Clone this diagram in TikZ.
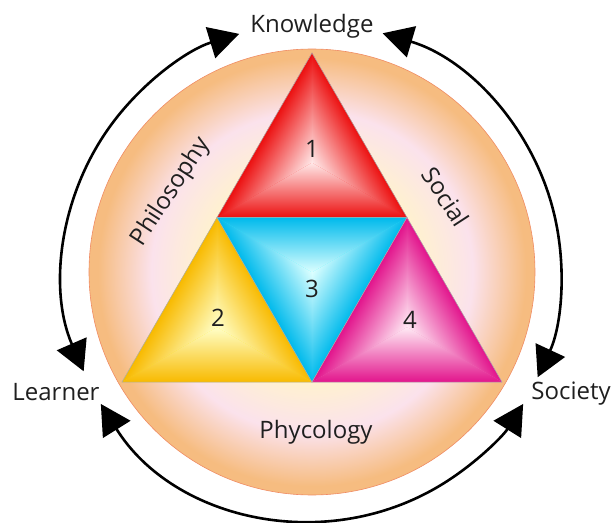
\documentclass[tikz,border=0pt]{standalone}
\usepackage{fontspec}
\setmainfont{Open Sans}
\usetikzlibrary{arrows.meta}

% Colours of the disc and of the four faces
\definecolor{discO}{RGB}{246,188,128}
\definecolor{discP}{RGB}{251,226,236}
\definecolor{discC}{RGB}{255,242,206}
\definecolor{discRim}{RGB}{240,140,100}
\definecolor{redE}{RGB}{236,16,16}
\definecolor{redM}{RGB}{255,40,40}
\definecolor{redC}{RGB}{255,232,232}
\definecolor{yelE}{RGB}{248,186,0}
\definecolor{yelM}{RGB}{255,238,0}
\definecolor{yelC}{RGB}{255,255,200}
\definecolor{cyaE}{RGB}{0,186,236}
\definecolor{cyaM}{RGB}{30,246,255}
\definecolor{cyaC}{RGB}{220,255,255}
\definecolor{magE}{RGB}{226,20,140}
\definecolor{magM}{RGB}{242,124,190}
\definecolor{magC}{RGB}{255,234,244}

\pgfdeclareradialshading{discshade}{\pgfpoint{0bp}{0bp}}{%
  color(0bp)=(discC); color(12bp)=(discC); color(18bp)=(discP);
  color(24bp)=(discO); color(25bp)=(discO); color(50bp)=(discO)}

\begin{document}
\begin{tikzpicture}[x=1pt,y=1pt]
\tikzset{
  every node/.style={font=\fontsize{24}{28}\selectfont, text=black!88},
  number/.style={font=\fontsize{24}{28}\selectfont},
  roundarrow/.style={line width=2.6pt,
    {Triangle[length=30pt,width=32pt]}-{Triangle[length=30pt,width=32pt]}},
  rim/.style={draw=gray!65, line width=0.5pt},
  redface/.style={bottom color=redE, middle color=redM, top color=redC},
  yelface/.style={bottom color=yelE, middle color=yelM, top color=yelC},
  cyaface/.style={top color=cyaE, middle color=cyaM, bottom color=cyaC},
  magface/.style={bottom color=magE, middle color=magM, top color=magC}
}
\useasboundingbox (-312,-250) rectangle (301,272);

% Draw the disc
\shade[shading=discshade] (0,0) circle (223);
\draw[discRim, line width=0.6pt] (0,0) circle (223);

% Corners and centres of the triangles
\coordinate (top) at (0,219);
\coordinate (bl) at (-190,-110);
\coordinate (br) at (190,-110);
\coordinate (ml) at (-95,54.5);
\coordinate (mr) at (95,54.5);
\coordinate (mb) at (0,-110);
\coordinate (c1) at (0,109.33);
\coordinate (c2) at (-95,-55.17);
\coordinate (c3) at (0,-0.33);
\coordinate (c4) at (95,-55.17);

% Draw the four triangles, three shaded facets each
\fill[redM] (top) -- (ml) -- (mr) -- cycle;
\foreach \a in {0,120,240}
  \shade[redface, transform canvas={rotate around={\a:(c1)}}] (ml) -- (mr) -- (c1) -- cycle;
\fill[yelM] (ml) -- (bl) -- (mb) -- cycle;
\foreach \a in {0,120,240}
  \shade[yelface, transform canvas={rotate around={\a:(c2)}}] (bl) -- (mb) -- (c2) -- cycle;
\fill[cyaM] (ml) -- (mr) -- (mb) -- cycle;
\foreach \a in {0,120,240}
  \shade[cyaface, transform canvas={rotate around={\a:(c3)}}] (ml) -- (mr) -- (c3) -- cycle;
\fill[magM] (mr) -- (mb) -- (br) -- cycle;
\foreach \a in {0,120,240}
  \shade[magface, transform canvas={rotate around={\a:(c4)}}] (mb) -- (br) -- (c4) -- cycle;

% Outlines
\draw[rim] (top) -- (ml) -- (mr) -- cycle;
\draw[rim] (ml) -- (bl) -- (mb) -- cycle;
\draw[rim] (mr) -- (mb) -- (br) -- cycle;

% Numbers
\node[number] (n1) at (0,123.5) {1};
\node[number] (n2) at (-94,-45.5) {2};
\node[number] (n3) at (0,-16.5) {3};
\node[number] (n4) at (98,-48) {4};

% Labels
\node[anchor=base] (know) at (0,239) {Knowledge};
\node[anchor=base] (learn) at (-256,-128) {Learner};
\node[anchor=base] (soc) at (259,-127) {Society};
\node[anchor=base] (phy) at (4,-166) {Phycology};
\node[rotate=57] (phil) at (-141,80) {Philosophy};
\node[rotate=-57] (socl) at (134,75) {Social};

% Draw the arrows round the disc
\coordinate (la) at (203.5:249);
\coordinate (kr) at (73.5:249);
\coordinate (lb) at (212:249);
\draw[roundarrow] (la) arc[start angle=203.5, end angle=107, radius=249];
\draw[roundarrow] (kr) arc[start angle=73.5, end angle=-25, radius=249];
\draw[roundarrow] (lb) arc[start angle=212, end angle=328, radius=249];

\end{tikzpicture}
\end{document}
